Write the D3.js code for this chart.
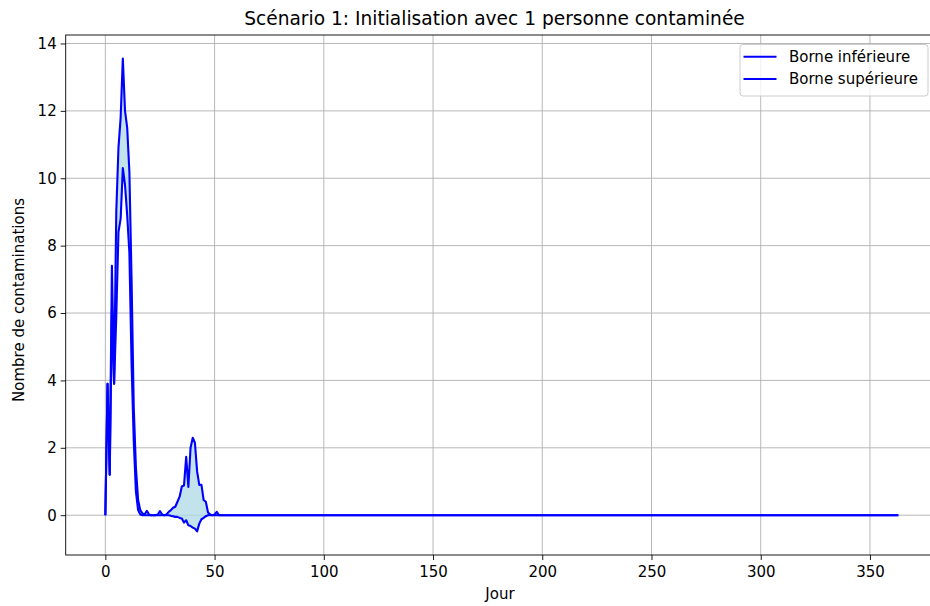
<!DOCTYPE html>
<html>
<head>
<meta charset="utf-8">
<script src="https://cdn.jsdelivr.net/npm/d3@7"></script>
<style>
  body { margin: 0; background: #fff; }
  svg { display: block; }
  text { font-family: "DejaVu Sans", sans-serif; fill: #000; }
</style>
</head>
<body>
<svg id="chart" width="930" height="606"></svg>
<script>
// ---- data ----
const titleText = "Scénario 1: Initialisation avec 1 personne contaminée";
const xLabel = "Jour";
const yLabel = "Nombre de contaminations";
const seriesNames = ["Borne inférieure", "Borne supérieure"];
const nDays = 364; // days 0..363
// non-zero start of each series (day 0 onwards); later days read as 0
const upperHead = [0, 3.9, 1.2, 7.4, 3.9, 9.0, 10.9, 11.8, 13.55, 12.0,
  11.5, 10.2, 7.0, 3.2, 1.4, 0.45, 0.15, 0.05, 0.02, 0.13,
  0.02, 0, 0, 0, 0.02, 0.12, 0.02, 0, 0.02, 0.1,
  0.15, 0.22, 0.25, 0.4, 0.55, 0.85, 0.88, 1.73, 0.84, 2.0,
  2.3, 2.15, 1.3, 0.9, 0.9, 0.45, 0.4, 0.08, 0.02, 0,
  0.02, 0.1, 0];
const lowerHead = [0, 3.9, 1.2, 6.1, 3.9, 5.9, 8.4, 8.8, 10.3, 9.8,
  8.9, 7.8, 4.5, 2.2, 0.7, 0.15, 0.02, 0, 0, 0,
  0, 0, 0, 0, 0, 0, 0, 0, 0, 0,
  -0.02, -0.03, -0.05, -0.05, -0.08, -0.1, -0.22, -0.15, -0.3, -0.32,
  -0.37, -0.4, -0.48, -0.25, -0.12, -0.08, -0.03, 0];
const xTicks = [0, 50, 100, 150, 200, 250, 300, 350];
const yTicks = [0, 2, 4, 6, 8, 10, 12, 14];

const days = d3.range(nDays);
const upper = days.map(d => d < upperHead.length ? upperHead[d] : 0);
const lower = days.map(d => d < lowerHead.length ? lowerHead[d] : 0);
const rows = days.map((d, i) => ({ day: d, lo: lower[i], hi: upper[i] }));

// ---- layout ----
const m = { left: 65.7, top: 35, right: 938, bottom: 555 };

const xMin = 0, xMax = nDays - 1;
const xPad = (xMax - xMin) * 0.05;
const yMin = d3.min(lower), yMax = d3.max(upper);
const yPad = (yMax - yMin) * 0.05;

const x = d3.scaleLinear().domain([xMin - xPad, xMax + xPad]).range([m.left, m.right]);
const y = d3.scaleLinear().domain([yMin - yPad, yMax + yPad]).range([m.bottom, m.top]);

const svg = d3.select("#chart");

// grid
const grid = svg.append("g");
grid.selectAll("line.gx").data(xTicks).join("line")
  .attr("x1", d => x(d)).attr("x2", d => x(d))
  .attr("y1", m.top).attr("y2", m.bottom)
  .attr("stroke", "#b0b0b0").attr("stroke-width", 0.9);
grid.selectAll("line.gy").data(yTicks).join("line")
  .attr("x1", m.left).attr("x2", m.right)
  .attr("y1", d => y(d)).attr("y2", d => y(d))
  .attr("stroke", "#b0b0b0").attr("stroke-width", 0.9);

// fill between
const area = d3.area().x(d => x(d.day)).y0(d => y(d.lo)).y1(d => y(d.hi));
svg.append("path").datum(rows).attr("d", area)
  .attr("fill", "#add8e6").attr("fill-opacity", 0.75).attr("stroke", "none");

// lines
const lineLo = d3.line().x(d => x(d.day)).y(d => y(d.lo));
const lineHi = d3.line().x(d => x(d.day)).y(d => y(d.hi));
svg.append("path").datum(rows).attr("d", lineLo)
  .attr("fill", "none").attr("stroke", "#0000ff").attr("stroke-width", 2.1).attr("stroke-linejoin", "round");
svg.append("path").datum(rows).attr("d", lineHi)
  .attr("fill", "none").attr("stroke", "#0000ff").attr("stroke-width", 2.1).attr("stroke-linejoin", "round");

// axes
const fs = 15;
const xAxis = d3.axisBottom(x).tickValues(xTicks).tickSize(5).tickPadding(6).tickFormat(d3.format("d"));
const yAxis = d3.axisLeft(y).tickValues(yTicks).tickSize(5).tickPadding(4).tickFormat(d3.format("d"));
const gx = svg.append("g").attr("transform", `translate(0,${m.bottom})`).call(xAxis);
const gy = svg.append("g").attr("transform", `translate(${m.left},0)`).call(yAxis);
[gx, gy].forEach(g => {
  g.select(".domain").remove();
  g.selectAll(".tick line").attr("stroke", "#000").attr("stroke-width", 0.9);
  g.selectAll(".tick text").attr("font-size", fs).attr("font-family", "DejaVu Sans").attr("fill", "#000");
});

// spines
svg.append("rect").attr("x", m.left).attr("y", m.top)
  .attr("width", m.right - m.left).attr("height", m.bottom - m.top)
  .attr("fill", "none").attr("stroke", "#000").attr("stroke-width", 0.9);

// labels
svg.append("text").attr("x", 494.5).attr("y", 25)
  .attr("text-anchor", "middle").attr("font-size", 18.6).text(titleText);
svg.append("text").attr("x", 500).attr("y", 599)
  .attr("text-anchor", "middle").attr("font-size", fs).text(xLabel);
svg.append("text").attr("transform", `translate(24,${(m.top + m.bottom) / 2 + 5}) rotate(-90)`)
  .attr("text-anchor", "middle").attr("font-size", fs).text(yLabel);

// legend
const lg = svg.append("g");
lg.append("rect").attr("x", 740).attr("y", 44.5).attr("width", 188).attr("height", 51.5)
  .attr("rx", 3).attr("fill", "#fff").attr("fill-opacity", 0.8)
  .attr("stroke", "#cccccc").attr("stroke-width", 1);
seriesNames.forEach((name, i) => {
  const yy = 56.7 + i * 22.3;
  lg.append("line").attr("x1", 743.5).attr("x2", 776.5).attr("y1", yy).attr("y2", yy)
    .attr("stroke", "#0000ff").attr("stroke-width", 2.1);
  lg.append("text").attr("x", 789).attr("y", yy + 5.3).attr("font-size", fs).text(name);
});
</script>
</body>
</html>
